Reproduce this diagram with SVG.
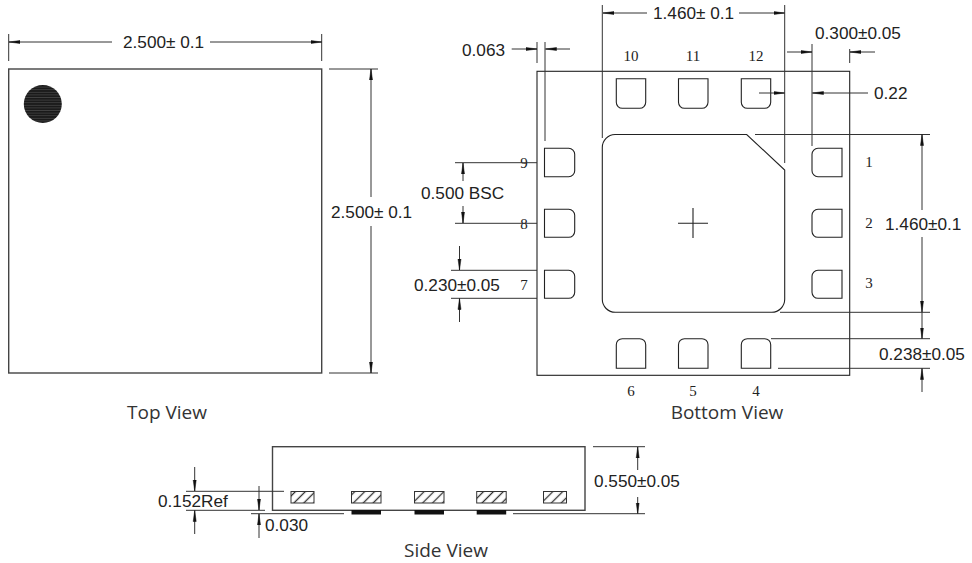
<svg xmlns="http://www.w3.org/2000/svg" width="972" height="563" viewBox="0 0 972 563">
<style>
.s{fill:none;stroke:#222;stroke-width:1.1}
.o{fill:none;stroke:#444;stroke-width:1.4}
.l{fill:none;stroke:#333;stroke-width:1}
.a{marker-end:url(#ah)}
.t{font-family:"Liberation Sans",Arial,sans-serif;font-size:17.2px;fill:#222}
.n{font-family:"Liberation Serif","Times New Roman",serif;font-size:15px;fill:#222;text-anchor:middle}
.v{font-family:"Open Sans","Noto Sans",sans-serif;font-size:19px;fill:#333;text-anchor:middle}
.h{fill:url(#hatch);stroke:#333;stroke-width:1}
.b{fill:#111}
</style>
<defs>
<marker id="ah" markerUnits="userSpaceOnUse" markerWidth="12" markerHeight="6" refX="11" refY="3" orient="auto"><path d="M0 1.5L11 3L0 4.5Z" fill="#111" stroke="#111" stroke-width=".5"/></marker>
<pattern id="hatch" patternUnits="userSpaceOnUse" width="7" height="7" patternTransform="rotate(45)"><rect width="7" height="7" fill="#fff"/><line x1="3.5" y1="0" x2="3.5" y2="7" stroke="#333" stroke-width="1.3"/></pattern>
<pattern id="dot" patternUnits="userSpaceOnUse" width="3" height="2.6"><rect width="3" height="2.6" fill="#1a1a1a"/><line x1="0" y1="1.3" x2="3" y2="1.3" stroke="#555" stroke-width=".6"/></pattern>
</defs>

<g id="top-view">
<rect class="o" x="8.7" y="69" width="313" height="304"/>
<circle cx="42.8" cy="104" r="19" fill="url(#dot)"/>
<text class="v" x="167" y="419.3">Top View</text>
</g>

<g id="bottom-view">
<rect class="s" x="537" y="71.3" width="312.7" height="304"/>
<path id="exposed-pad" class="s" d="M615 134.5H746.7L784.7 170V299.3A13 13 0 0 1 771.7 312.3H615.3A13 13 0 0 1 602.3 299.3V147.5A13 13 0 0 1 615 134.5Z"/>
<path id="center-mark" class="s" d="M678 223.3H708M693 208V238"/>
<text class="v" x="727" y="419.3">Bottom View</text>
</g>

<g id="pads-top">
<path id="pad-10" class="s" d="M616.3 78.7H645.7V102.3A6 6 0 0 1 639.7 108.3H622.3A6 6 0 0 1 616.3 102.3Z"/>
<path id="pad-11" class="s" d="M678.5 78.7H708V102.3A6 6 0 0 1 702 108.3H684.5A6 6 0 0 1 678.5 102.3Z"/>
<path id="pad-12" class="s" d="M741.3 78.7H770.7V102.3A6 6 0 0 1 764.7 108.3H747.3A6 6 0 0 1 741.3 102.3Z"/>
</g>
<g id="pads-bottom">
<path id="pad-6" class="s" d="M616.3 368.3H645.7V344.7A6 6 0 0 0 639.7 338.7H622.3A6 6 0 0 0 616.3 344.7Z"/>
<path id="pad-5" class="s" d="M678.5 368.3H708V344.7A6 6 0 0 0 702 338.7H684.5A6 6 0 0 0 678.5 344.7Z"/>
<path id="pad-4" class="s" d="M741.3 368.3H770.7V344.7A6 6 0 0 0 764.7 338.7H747.3A6 6 0 0 0 741.3 344.7Z"/>
</g>
<g id="pads-left">
<path id="pad-9" class="s" d="M544.5 148.3H568.7A6 6 0 0 1 574.7 154.3V170.7A6 6 0 0 1 568.7 176.7H544.5Z"/>
<path id="pad-8" class="s" d="M544.5 209.3H568.7A6 6 0 0 1 574.7 215.3V231.3A6 6 0 0 1 568.7 237.3H544.5Z"/>
<path id="pad-7" class="s" d="M544.5 270.3H568.7A6 6 0 0 1 574.7 276.3V292.3A6 6 0 0 1 568.7 298.3H544.5Z"/>
</g>
<g id="pads-right">
<path id="pad-1" class="s" d="M842 148.3H818A6 6 0 0 0 812 154.3V170.7A6 6 0 0 0 818 176.7H842Z"/>
<path id="pad-2" class="s" d="M842 209.3H818A6 6 0 0 0 812 215.3V231.3A6 6 0 0 0 818 237.3H842Z"/>
<path id="pad-3" class="s" d="M842 270.3H818A6 6 0 0 0 812 276.3V292.3A6 6 0 0 0 818 298.3H842Z"/>
</g>

<g id="pin-labels">
<text class="n" x="631" y="60.5">10</text><text class="n" x="693" y="60.5">11</text><text class="n" x="756" y="60.5">12</text>
<text class="n" x="869" y="167">1</text><text class="n" x="869" y="228">2</text><text class="n" x="869" y="288">3</text>
<text class="n" x="756" y="396">4</text><text class="n" x="693" y="396">5</text><text class="n" x="631" y="396">6</text>
<text class="n" x="524" y="290">7</text><text class="n" x="524" y="229">8</text><text class="n" x="524" y="168">9</text>
</g>

<g id="side-view">
<rect class="o" x="272.5" y="446.7" width="312.5" height="63.6"/>
<rect class="h" x="291" y="491.5" width="23" height="11.5"/>
<rect class="h" x="351.5" y="491.5" width="29.5" height="11.5"/>
<rect class="h" x="414.5" y="491.5" width="29.5" height="11.5"/>
<rect class="h" x="476.7" y="491.5" width="29.5" height="11.5"/>
<rect class="h" x="543.5" y="491.5" width="23" height="11.5"/>
<rect class="b" x="351.5" y="510" width="29.5" height="4.5"/>
<rect class="b" x="414.5" y="510" width="29.5" height="4.5"/>
<rect class="b" x="476.7" y="510" width="29.5" height="4.5"/>
<text class="v" x="446" y="557">Side View</text>
</g>

<g id="connectors">
<path class="l" d="M8.7 34V61M321.7 34V61M329 69H378M329 373H378"/>
<line class="l a" x1="112" y1="42" x2="9" y2="42"/><line class="l a" x1="210" y1="42" x2="321.7" y2="42"/>
<line class="l a" x1="371" y1="197" x2="371" y2="69"/><line class="l a" x1="371" y1="226" x2="371" y2="373"/>

<path class="l" d="M602.3 5V138M784.7 5V163M537 42V63M545 42V141M812 44V146M849.7 49V63"/>
<line class="l a" x1="647" y1="13" x2="603" y2="13"/><line class="l a" x1="739" y1="13" x2="784.5" y2="13"/>
<line class="l a" x1="511.7" y1="49" x2="537" y2="49"/><line class="l a" x1="570" y1="49" x2="545.5" y2="49"/>
<line class="l a" x1="787" y1="52" x2="812" y2="52"/><line class="l a" x1="875" y1="52" x2="850" y2="52"/>
<line class="l a" x1="759" y1="93" x2="784.5" y2="93"/><line class="l a" x1="868" y1="93" x2="812.5" y2="93"/>

<path class="l" d="M455 162.7H537M455 223.3H537M451 270.3H537M451 298.3H537"/>
<line class="l a" x1="463" y1="181" x2="463" y2="163"/><line class="l a" x1="463" y1="206" x2="463" y2="223"/>
<line class="l a" x1="459.5" y1="246" x2="459.5" y2="270"/><line class="l a" x1="459.5" y1="322" x2="459.5" y2="298.5"/>

<path class="l" d="M755 134.5H930M780 312.3H930M771 338.7H930M778 368.3H930"/>
<line class="l a" x1="922" y1="210" x2="922" y2="134.5"/><line class="l a" x1="922" y1="237" x2="922" y2="312"/>
<line class="l a" x1="922" y1="312" x2="922" y2="338.5"/><line class="l a" x1="922" y1="392" x2="922" y2="368.5"/>

<path class="l" d="M593 446.7H645M513 513.7H645M186 491.3H284M186 510.3H265M251 513.7H344"/>
<line class="l a" x1="637.7" y1="470" x2="637.7" y2="447"/><line class="l a" x1="637.7" y1="497" x2="637.7" y2="513.5"/>
<line class="l a" x1="194.7" y1="467" x2="194.7" y2="491"/><line class="l a" x1="194.7" y1="534" x2="194.7" y2="510.5"/>
<line class="l a" x1="259" y1="486" x2="259" y2="510"/><line class="l a" x1="259" y1="538" x2="259" y2="514"/>
</g>

<g id="dimension-labels">
<text class="t" x="123" y="48">2.500± 0.1</text>
<text class="t" x="331" y="218">2.500± 0.1</text>
<text class="t" x="653" y="19">1.460± 0.1</text>
<text class="t" x="462" y="56">0.063</text>
<text class="t" x="815" y="39">0.300±0.05</text>
<text class="t" x="874" y="99">0.22</text>
<text class="t" x="421" y="198.5">0.500 BSC</text>
<text class="t" x="414" y="291">0.230±0.05</text>
<text class="t" x="885" y="230">1.460±0.1</text>
<text class="t" x="879" y="360">0.238±0.05</text>
<text class="t" x="594" y="487">0.550±0.05</text>
<text class="t" x="158" y="507">0.152Ref</text>
<text class="t" x="265" y="531">0.030</text>
</g>
</svg>
